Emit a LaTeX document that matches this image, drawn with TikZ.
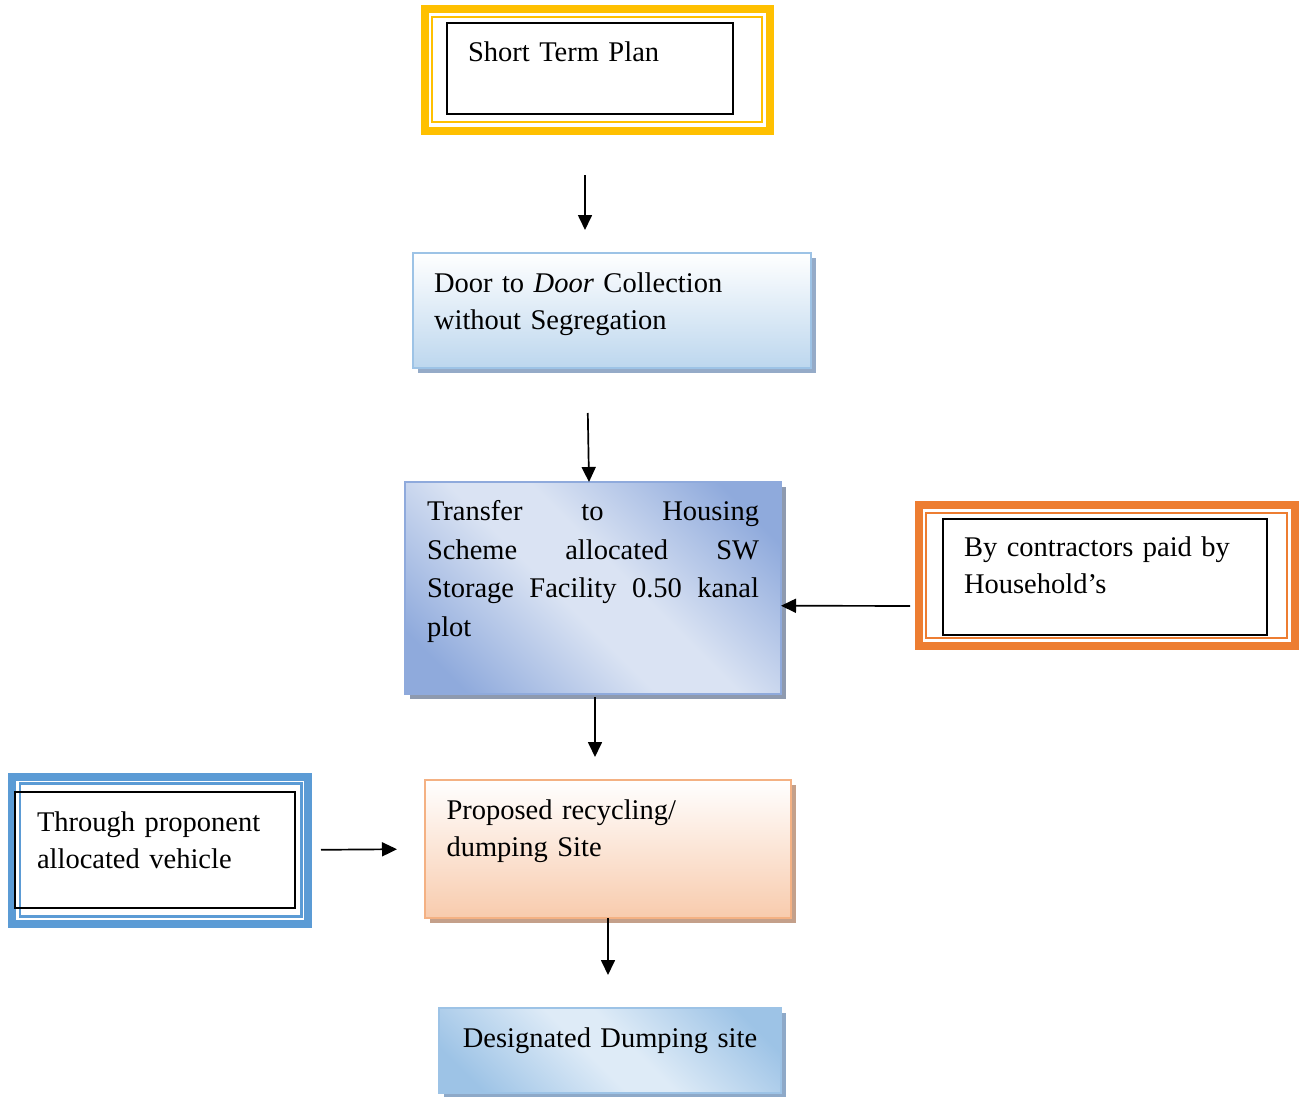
\documentclass[tikz,border=0pt]{standalone}
\usepackage{fontspec}
\setmainfont{Liberation Serif}
\usetikzlibrary{arrows.meta,shadows}
\definecolor{frmyel}{HTML}{FFC000}
\definecolor{frmorg}{HTML}{ED7D31}
\definecolor{frmblu}{HTML}{5B9BD5}
\definecolor{doorline}{HTML}{9DC3E6}
\definecolor{doorbot}{HTML}{BDD7EE}
\definecolor{doorshd}{HTML}{95ABC8}
\definecolor{tfline}{HTML}{8FAADC}
\definecolor{tfdark}{HTML}{8FAADC}
\definecolor{tflight}{HTML}{DAE3F3}
\definecolor{tfshd}{HTML}{8E9AAF}
\definecolor{prline}{HTML}{F4B183}
\definecolor{prbot}{HTML}{F8CBAD}
\definecolor{prshd}{HTML}{C4A08A}
\definecolor{dsdark}{HTML}{9DC3E6}
\definecolor{dslight}{HTML}{DEEBF7}
\definecolor{dsshd}{HTML}{8EA9C8}
\pgfdeclarehorizontalshading{tfshade}{100bp}{color(0bp)=(tfdark); color(22bp)=(tfdark);
  color(45bp)=(tflight); color(55bp)=(tflight); color(78bp)=(tfdark); color(100bp)=(tfdark)}
\pgfdeclarehorizontalshading{dsshade}{100bp}{color(0bp)=(dsdark); color(22bp)=(dsdark);
  color(46bp)=(dslight); color(54bp)=(dslight); color(78bp)=(dsdark); color(100bp)=(dsdark)}

\begin{document}
\begin{tikzpicture}[x=1pt,y=-1pt,
  txt/.style={font=\fontsize{28.5}{37}\selectfont,align=left,anchor=north west,
              inner ysep=0pt,outer sep=0pt,line width=2pt},
  blk/.style={txt,draw=black},
  sz/.style n args={4}{inner xsep=#1pt,text width=#2pt,text height=#3pt,text depth=#4pt},
  shd/.style={drop shadow={shadow xshift=4.5pt,shadow yshift=-5pt,fill=#1,opacity=1}},
  band/.style={draw=#1,line width=8pt},
  thin/.style={draw=#1,line width=2.5pt},
  arr/.style={-{Triangle[width=14pt,length=15pt]},line width=1.7pt}
]
\useasboundingbox (0,0) rectangle (1304,1097);

% double frames
\draw[band=frmyel] (424.5,9) rectangle (769.5,131);
\draw[thin=frmyel] (432,17) rectangle (762,122);
\draw[band=frmorg] (918.8,504.8) rectangle (1294.5,645.5);
\draw[thin=frmorg] (926,513) rectangle (1287,638);
\draw[band=frmblu] (12.3,777.3) rectangle (307.7,924.3);
\draw[thin=frmblu] (20,783.5) rectangle (301.5,916.5);

\node[blk,sz={21}{244}{38.5}{52}] (short) at (447,23.5) {Short Term Plan};
\node[txt,sz={21}{356}{39}{75.5},draw=doorline,top color=white,bottom color=doorbot,
      shd=doorshd] (door) at (413,253)
  {Door to \textit{Door} Collection\\without Segregation};
\node[txt,sz={22}{332}{38.5}{173},align=justify,font=\fontsize{28.5}{38.5}\selectfont,
      draw=tfline,shading=tfshade,shading angle=45,shd=tfshd] (transfer) at (405,482)
  {Transfer\hfill to\hfill Housing\\Scheme\hfill allocated\hfill SW\\
   Storage\hfill Facility\hfill 0.50\hfill kanal\\plot};
\node[blk,sz={21}{282}{37.5}{78.5}] (contr) at (943,519)
  {By contractors paid by\\Household’s};
\node[blk,sz={22}{236}{39}{77}] (vehicle) at (15,792)
  {Through proponent\\allocated vehicle};
\node[txt,sz={21.5}{323}{39.5}{98.5},draw=prline,top color=white,bottom color=prbot,
      shd=prshd] (recycle) at (425,780)
  {Proposed recycling/\\dumping Site};
\node[txt,sz={10}{322}{40}{45.5},align=center,draw=doorline,shading=dsshade,
      shading angle=45,shd=dsshd] (dump)
  at (439,1007.5) {Designated Dumping site};

\draw[arr,shorten <=61pt,shorten >=23pt] ([xshift=-5pt]short.south) -- ([xshift=-27pt]door.north);
\draw[arr,shorten <=45.5pt] ([xshift=-25pt]door.south) -- ([xshift=-4pt]transfer.north);
\draw[arr,shorten <=33pt] ([yshift=-29pt]contr.west) -- ([yshift=-18pt]transfer.east);
\draw[arr,shorten <=3.5pt,shorten >=23pt] ([xshift=2pt]transfer.south) -- ([xshift=-13pt]recycle.north);
\draw[arr,shorten <=26pt,shorten >=28pt] (vehicle.east) -- (recycle.west);
\draw[arr,shorten >=32.5pt] (recycle.south) -- ([xshift=-2pt]dump.north);
\end{tikzpicture}
\end{document}
